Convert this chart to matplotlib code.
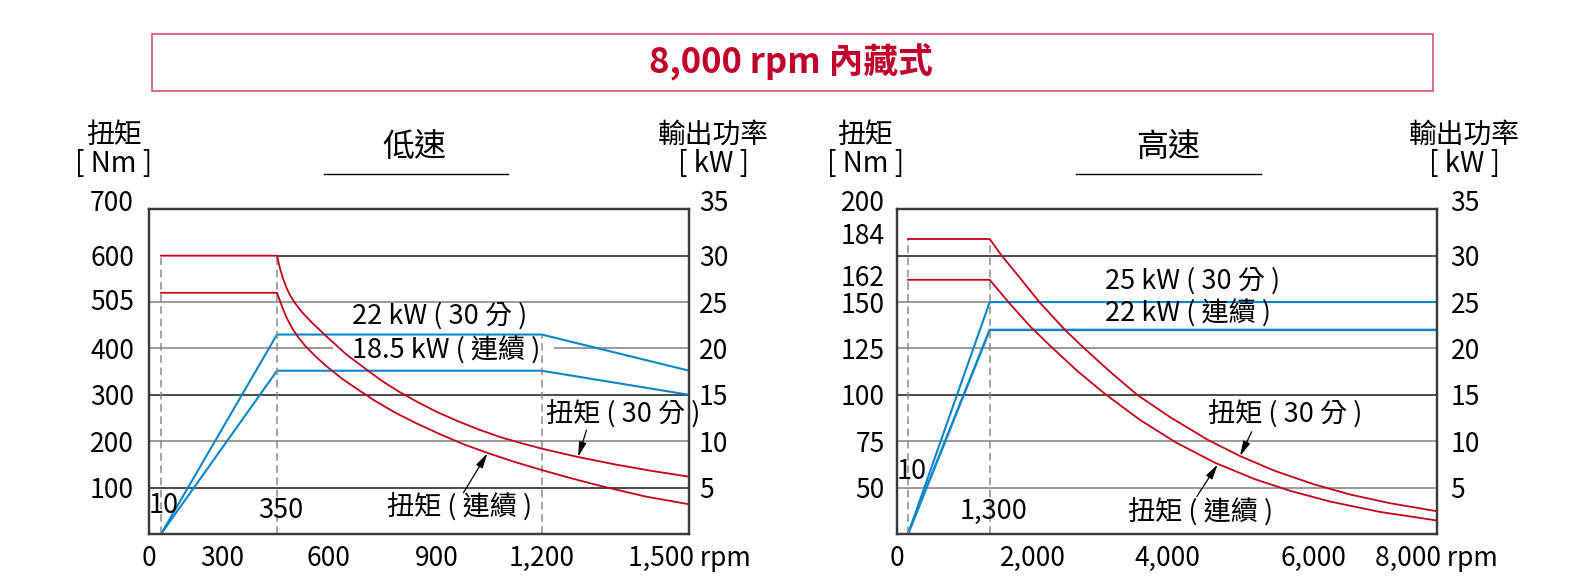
import numpy as np
import matplotlib.pyplot as plt
from matplotlib.patches import Rectangle
from matplotlib.lines import Line2D
from matplotlib.transforms import ScaledTranslation

plt.rcParams['font.family'] = ['Noto Sans CJK TC', 'DejaVu Sans']

RED = '#c4001a'
BLUE = '#0a86c8'
DARK = '#1a1a1a'
LIGHT = '#9a9a9a'
DASH = '#8a8a8a'

# ---- low speed panel (0 - 1,500 rpm) ----
lo_xticks = [0, 300, 600, 900, 1200, 1500]
lo_xticklabels = ['0', '300', '600', '900', '1,200', '1,500 rpm']
lo_nm_ticks = [100, 200, 300, 400, 505, 600, 700]
lo_kw_ticks = [5, 10, 15, 20, 25, 30, 35]

# torque, 30 min rating [Nm]
lo_t30_rpm = [10, 350, 364, 379, 394, 413, 437, 466, 515, 601, 651, 701, 748, 795, 848, 901,
              961, 1021, 1081, 1141, 1200, 1274, 1349, 1424, 1500]
lo_t30_nm = [600, 600, 573, 551, 533, 515, 498, 481, 457.5, 421, 386, 357, 330, 307, 284, 263,
             243, 225, 209, 196, 184, 166, 150, 136, 123.5]
# torque, continuous [Nm]
lo_tc_rpm = [10, 350, 364, 379, 398, 423, 452, 490, 539, 597, 637, 682, 729, 784,
             840, 901, 975, 1052, 1124, 1200, 1257, 1322, 1410, 1500]
lo_tc_nm = [520, 520, 503, 485, 465, 444, 424.5, 404, 382, 359, 335, 311, 287, 262,
            240, 218, 194, 173, 155, 138, 121, 103, 81, 64]
# output power [kW]
lo_p_rpm = [10, 350, 1200, 1500]
lo_p30_kw = [0, 21.5, 21.5, 17.6]
lo_pc_kw = [0, 17.6, 17.6, 15.0]

# ---- high speed panel (0 - 8,000 rpm) ----
hi_xticks = [0, 2000, 4000, 6000, 8000]
hi_xticklabels = ['0', '2,000', '4,000', '6,000', '8,000 rpm']
hi_nm_ticks = [50, 75, 100, 125, 150, 162, 184, 200]
hi_kw_ticks = [5, 10, 15, 20, 25, 30, 35]

hi_t30_rpm = [10, 1300, 1496, 1794, 2100, 2482, 2771, 3167, 3557, 4041, 4563, 4995,
              5471, 6000, 6589, 7240, 8000]
hi_t30_nm = [184, 184, 175, 163, 150, 135, 125, 112, 100, 88, 75.6, 67, 59, 51.8,
             46.3, 41.6, 37.3]
hi_tc_rpm = [10, 1300, 1631, 1958, 2259, 2661, 3077, 3598, 4123, 4654, 5199, 5676,
             6264, 7077, 8000]
hi_tc_nm = [162, 162, 149, 137, 126.5, 113, 100.5, 86.5, 74.3, 63.4, 54.5, 48.3,
            42.5, 36.9, 32.3]
hi_p_rpm = [10, 1300, 8000]
hi_p30_kw = [0, 25, 25]
hi_pc_kw = [0, 22, 22]

# the rpm axes of the original are not linear: knots (rpm) -> position (px from left spine)
lo_knot_rpm = [0, 10, 300, 350, 600, 900, 1200, 1500]
lo_knot_px = [0, 11.7, 72.4, 127.7, 179.3, 287.4, 392.4, 540]
hi_knot_rpm = [0, 10, 1300, 2000, 4000, 6000, 8000]
hi_knot_px = [0, 10.7, 92.4, 135.3, 269.7, 416.5, 539.4]

W, H = 1585, 585
fig = plt.figure(figsize=(W / 100, H / 100), dpi=100)


def px_rect(x0, y0, x1, y1):
    return [x0 / W, 1 - y1 / H, (x1 - x0) / W, (y1 - y0) / H]


def make_scale(knots, pos):
    return (lambda x: np.interp(x, knots, pos),
            lambda p: np.interp(p, pos, knots))


def nudge(label, px):
    label.set_transform(label.get_transform() + ScaledTranslation(0, px / 100, fig.dpi_scale_trans))


def panel(rect, knots, pos, xmax, ylim, xticks, xticklabels, nm_ticks, kw_ticks, lpad, rpad):
    ax = fig.add_axes(rect)
    ax.set_xscale('function', functions=make_scale(knots, pos))
    ax.set_xlim(0, xmax)
    ax.set_ylim(*ylim)
    ax2 = ax.twinx()
    ax2.set_ylim(0, 35)
    ax.set_zorder(ax2.get_zorder() + 1)
    ax.patch.set_visible(False)

    ax.set_xticks(xticks, xticklabels)
    ax.set_yticks(nm_ticks, [str(v) for v in nm_ticks])
    ax2.set_yticks(kw_ticks, [str(v) for v in kw_ticks])
    ax.tick_params(length=0, labelsize=19, pad=8)
    ax.tick_params(axis='y', pad=lpad)
    ax2.tick_params(length=0, labelsize=19, pad=rpad)
    for a in (ax, ax2):
        for s in a.spines.values():
            s.set_color('#3a3a3a')
            s.set_linewidth(1.6)
    # top labels sit a little above the frame
    nudge(ax.yaxis.get_major_ticks()[-1].label1, 9)
    nudge(ax2.yaxis.get_major_ticks()[-1].label2, 9)
    return ax, ax2


arrow = dict(arrowstyle='-|>,head_length=0.9,head_width=0.22', color='black', lw=0.9,
             shrinkA=0, shrinkB=0)
txt = dict(ha='left', va='center', fontsize=19.5)

# ---------------- low speed ----------------
ax, ax2 = panel(px_rect(149.3, 209.3, 689.3, 534), lo_knot_rpm, lo_knot_px, 1500, (0, 700),
                lo_xticks, lo_xticklabels, lo_nm_ticks, lo_kw_ticks, 11, 7)

ax2.hlines([5, 15], 0, 1500, color=DARK, lw=1.1)
ax2.hlines(30, lo_p_rpm[1], 1500, color=DARK, lw=1.1)
ax2.hlines([10, 25], 0, 1500, color=LIGHT, lw=1.4)
ax2.hlines(20, 0, 612, color=LIGHT, lw=1.4)
ax2.hlines(20, 1226, 1500, color=LIGHT, lw=1.4)

ax2.plot(lo_p_rpm, lo_p30_kw, color=BLUE, lw=1.5)
ax2.plot(lo_p_rpm, lo_pc_kw, color=BLUE, lw=1.5)
ax2.vlines(lo_p_rpm[2], 0, lo_p30_kw[2], color=DASH, lw=1.1, ls=(0, (5, 3)))

ax.vlines([lo_t30_rpm[0], lo_t30_rpm[1]], 0, lo_t30_nm[0], color=DASH, lw=1.1, ls=(0, (5, 3)))
ax.plot(lo_t30_rpm, lo_t30_nm, color=RED, lw=1.3)
ax.plot(lo_tc_rpm, lo_tc_nm, color=RED, lw=1.3)

ax.text(0.0272, 0.089, '10', transform=ax.transAxes, ha='center', va='center', fontsize=19.5)
ax.text(0.2439, 0.071, '350', transform=ax.transAxes, ha='center', va='center', fontsize=19.5)
ax.text(0.375, 0.670, '22 kW ( 30 分 )', transform=ax.transAxes, **txt)
ax.text(0.375, 0.564, '18.5 kW ( 連續 )', transform=ax.transAxes, **txt)
ax.text(0.735, 0.368, '扭矩 ( 30 分 )', transform=ax.transAxes, **txt)
ax.text(0.4405, 0.0816, '扭矩 ( 連續 )', transform=ax.transAxes, **txt)
ax.annotate('', xy=(1274, 166), xytext=(0.8096, 0.320), textcoords='axes fraction', arrowprops=arrow)
ax.annotate('', xy=(1045, 174), xytext=(0.5817, 0.127), textcoords='axes fraction', arrowprops=arrow)

# ---------------- high speed ----------------
bx, bx2 = panel(px_rect(897.3, 209.3, 1436.7, 534), hi_knot_rpm, hi_knot_px, 8000, (25, 200),
                hi_xticks, hi_xticklabels, hi_nm_ticks, hi_kw_ticks, 9, 10)
nudge(bx.yaxis.get_major_ticks()[5].label1, 4)
nudge(bx.yaxis.get_major_ticks()[6].label1, 5)

bx2.hlines([15, 30], 0, 8000, color=DARK, lw=1.1)
bx2.hlines([5, 10, 20, 25], 0, 8000, color=LIGHT, lw=1.4)

bx2.plot(hi_p_rpm, hi_p30_kw, color=BLUE, lw=1.5)
bx2.plot(hi_p_rpm, hi_pc_kw, color=BLUE, lw=1.8)

bx.vlines([hi_t30_rpm[0], hi_t30_rpm[1]], 25, hi_t30_nm[0], color=DASH, lw=1.1, ls=(0, (5, 3)))
bx.plot(hi_t30_rpm, hi_t30_nm, color=RED, lw=1.3)
bx.plot(hi_tc_rpm, hi_tc_nm, color=RED, lw=1.3)

bx.text(0.0267, 0.191, '10', transform=bx.transAxes, ha='center', va='center', fontsize=19.5)
bx.text(0.179, 0.071, '1,300', transform=bx.transAxes, ha='center', va='center', fontsize=19.5)
bx.text(0.385, 0.779, '25 kW ( 30 分 )', transform=bx.transAxes, **txt)
bx.text(0.385, 0.6776, '22 kW ( 連續 )', transform=bx.transAxes, **txt)
bx.text(0.576, 0.3665, '扭矩 ( 30 分 )', transform=bx.transAxes, **txt)
bx.text(0.428, 0.0647, '扭矩 ( 連續 )', transform=bx.transAxes, **txt)
bx.annotate('', xy=(4995, 67), xytext=(0.657, 0.315), textcoords='axes fraction', arrowprops=arrow)
bx.annotate('', xy=(4690, 62.5), xytext=(0.555, 0.115), textcoords='axes fraction', arrowprops=arrow)

# ---------------- headings ----------------
for x_nm, x_kw in [(114, 713.5), (865.4, 1464.2)]:
    fig.text(x_nm / W, 1 - 134.5 / H, '扭矩', ha='center', va='center', fontsize=20)
    fig.text(x_nm / W, 1 - 163.8 / H, '[ Nm ]', ha='center', va='center', fontsize=20)
    fig.text(x_kw / W, 1 - 134.5 / H, '輸出功率', ha='center', va='center', fontsize=20)
    fig.text(x_kw / W, 1 - 163.8 / H, '[ kW ]', ha='center', va='center', fontsize=20)

for xc, x0, x1, label in [(414.5, 323.5, 507.5, '低速'), (1167.7, 1075.7, 1260.7, '高速')]:
    fig.text(xc / W, 1 - 146.6 / H, label, ha='center', va='center', fontsize=23)
    fig.add_artist(Line2D([x0 / W, x1 / W], [1 - 173.9 / H] * 2, color='black', lw=1.0))

fig.add_artist(Rectangle((151.6 / W, 1 - 91 / H), 1280.9 / W, 56.6 / H, fill=False,
                         edgecolor='#d4516b', lw=1.2))
fig.text(790.6 / W, 1 - 62.7 / H, '8,000 rpm 內藏式', ha='center', va='center',
         fontsize=25, color='#c0002a', fontweight='bold')

fig.savefig('out.png', dpi=100)
